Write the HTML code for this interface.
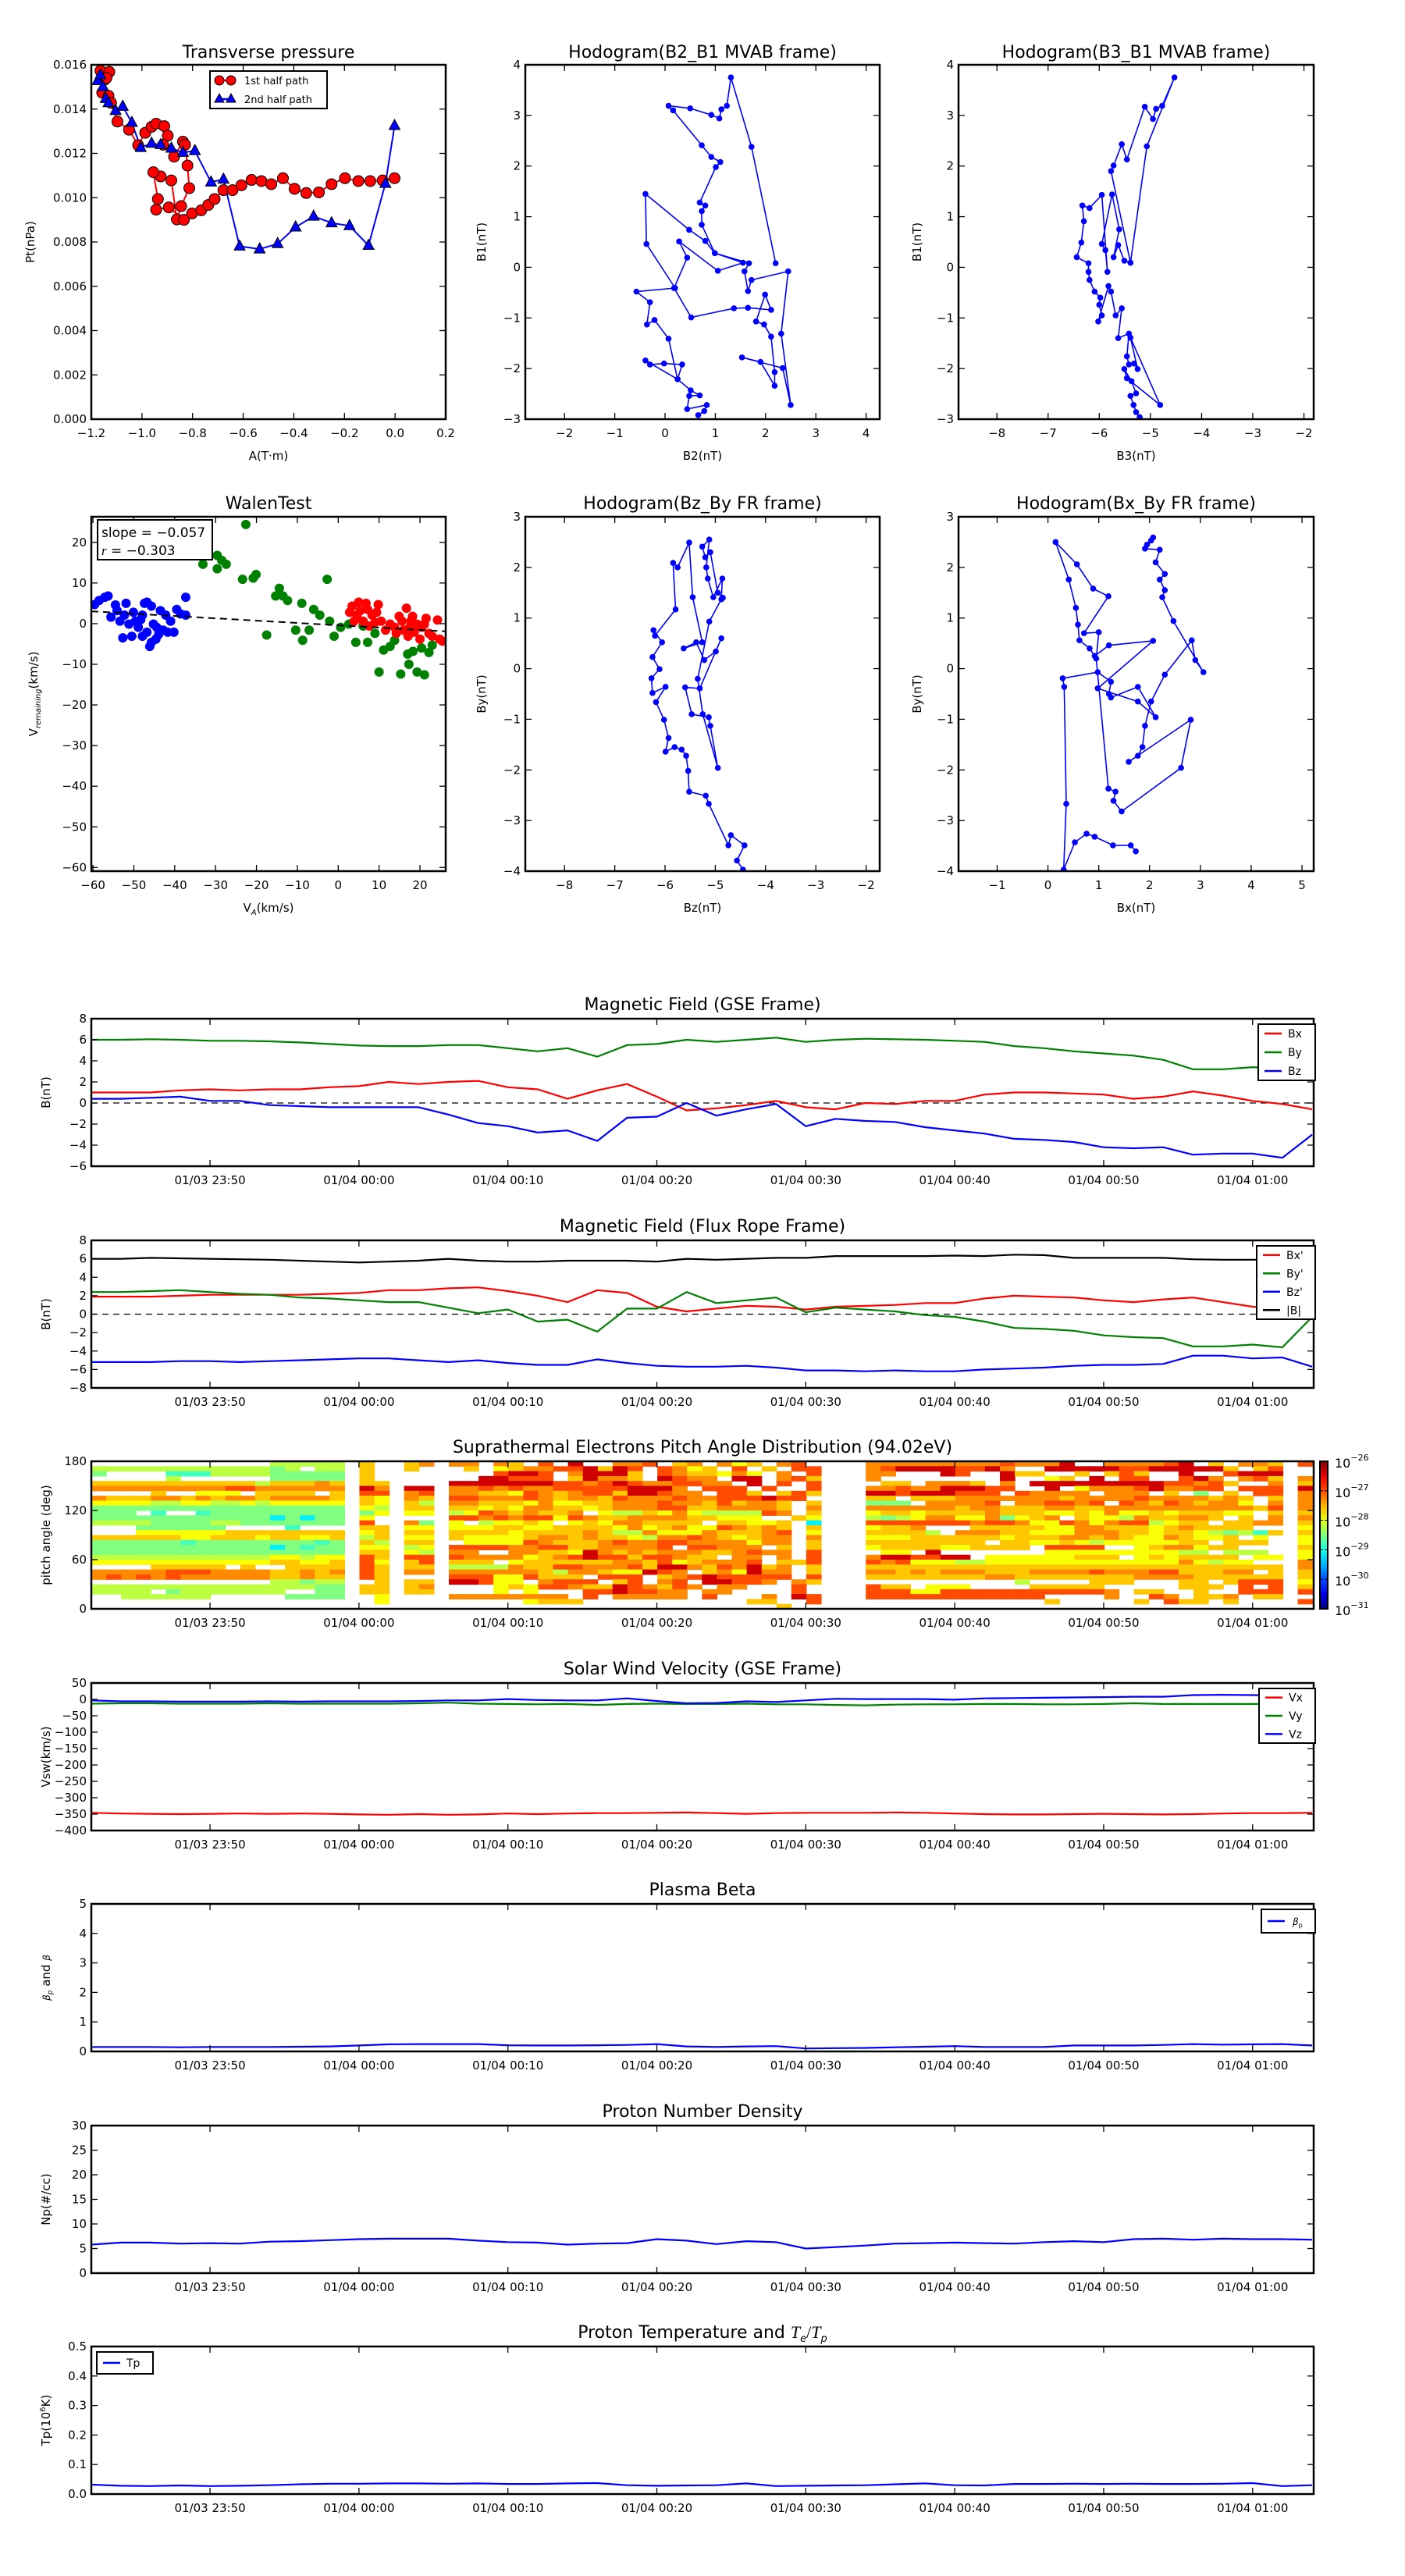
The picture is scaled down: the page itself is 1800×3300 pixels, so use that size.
<!DOCTYPE html>
<html><head><meta charset="utf-8"><title>Flux rope analysis</title>
<style>
html,body{margin:0;padding:0;background:#fff;}
svg{display:block;font-family:"DejaVu Sans","Liberation Sans",sans-serif;}
</style></head>
<body>
<svg id="fig" xmlns="http://www.w3.org/2000/svg" width="1800" height="3300" viewBox="0 0 1800 3300">
<rect x="0" y="0" width="1800" height="3300" fill="#fff"/>
</svg>
<script>
// ---------------- DATA ----------------
const tsTime=[2,4,6,8,10,12,14,16,18,20,22,24,26,28,30,32,34,36,38,40,42,44,46,48,50,52,54,56,58,60,62,64,66,68,70,72,74,76,78,80,82,84];
const timeTicks=[10,20,30,40,50,60,70,80];
const timeTickLabels=["01/03 23:50","01/04 00:00","01/04 00:10","01/04 00:20","01/04 00:30","01/04 00:40","01/04 00:50","01/04 01:00"];
const bxGse=[1.0,1.0,1.0,1.2,1.3,1.2,1.3,1.3,1.5,1.6,2.0,1.8,2.0,2.1,1.5,1.3,0.4,1.2,1.8,0.6,-0.7,-0.5,-0.2,0.2,-0.4,-0.6,0.0,-0.1,0.2,0.2,0.8,1.0,1.0,0.9,0.8,0.4,0.6,1.1,0.7,0.2,-0.1,-0.6];
const byGse=[6.0,6.0,6.05,6.0,5.9,5.9,5.85,5.75,5.6,5.45,5.4,5.4,5.5,5.5,5.2,4.9,5.2,4.4,5.5,5.6,6.0,5.8,6.0,6.2,5.8,6.0,6.1,6.05,6.0,5.9,5.8,5.4,5.2,4.9,4.7,4.5,4.1,3.2,3.2,3.4,3.3,4.8];
const bzGse=[0.4,0.4,0.5,0.6,0.2,0.2,-0.2,-0.3,-0.4,-0.4,-0.4,-0.4,-1.1,-1.9,-2.2,-2.8,-2.6,-3.6,-1.4,-1.3,0.0,-1.2,-0.6,-0.1,-2.2,-1.5,-1.7,-1.8,-2.3,-2.6,-2.9,-3.4,-3.5,-3.7,-4.2,-4.3,-4.2,-4.9,-4.8,-4.8,-5.2,-3.0];
const bxFr=[1.9,1.9,1.9,2.0,2.1,2.1,2.1,2.1,2.2,2.3,2.6,2.6,2.8,2.9,2.5,2.0,1.3,2.6,2.3,0.8,0.3,0.6,0.9,0.8,0.5,0.8,0.9,1.0,1.2,1.2,1.7,2.0,1.9,1.8,1.5,1.3,1.6,1.8,1.3,0.8,0.6,0.6];
const byFr=[2.4,2.4,2.5,2.6,2.4,2.2,2.1,1.8,1.7,1.5,1.3,1.3,0.7,0.1,0.5,-0.8,-0.6,-1.9,0.6,0.6,2.4,1.2,1.5,1.8,0.2,0.7,0.5,0.3,-0.1,-0.3,-0.8,-1.5,-1.6,-1.8,-2.3,-2.5,-2.6,-3.5,-3.5,-3.3,-3.6,-0.3];
const bzFr=[-5.2,-5.2,-5.2,-5.1,-5.1,-5.2,-5.1,-5.0,-4.9,-4.8,-4.8,-5.0,-5.2,-5.0,-5.3,-5.5,-5.5,-4.9,-5.3,-5.6,-5.7,-5.7,-5.6,-5.8,-6.1,-6.1,-6.2,-6.1,-6.2,-6.2,-6.0,-5.9,-5.8,-5.6,-5.5,-5.5,-5.4,-4.5,-4.5,-4.8,-4.7,-5.7];
const btFr=[6.0,6.0,6.1,6.05,6.0,5.95,5.9,5.8,5.7,5.6,5.7,5.8,6.0,5.8,5.7,5.7,5.8,5.8,5.8,5.7,6.0,5.9,6.0,6.1,6.1,6.3,6.3,6.3,6.3,6.35,6.3,6.45,6.4,6.1,6.1,6.1,6.1,5.95,5.9,5.9,5.95,6.0];
const vx=[-346,-348,-349,-350,-349,-348,-349,-348,-349,-351,-352,-350,-352,-351,-348,-350,-348,-347,-347,-346,-345,-347,-349,-347,-346,-346,-346,-345,-346,-348,-350,-351,-351,-350,-349,-350,-351,-350,-348,-347,-347,-346];
const vy=[-13,-12,-12,-13,-13,-13,-12,-13,-13,-13,-13,-12,-10,-13,-14,-15,-14,-17,-14,-13,-14,-14,-13,-15,-15,-17,-18,-16,-15,-15,-14,-14,-15,-15,-14,-12,-14,-14,-14,-14,-14,-14];
const vz=[-3,-6,-6,-7,-7,-7,-6,-7,-6,-6,-6,-5,-3,-3,1,-2,-3,-3,3,-5,-12,-11,-6,-8,-3,2,1,1,1,-1,3,4,5,6,7,8,8,13,14,13,11,8];
const betaP=[0.15,0.15,0.15,0.14,0.15,0.15,0.15,0.16,0.17,0.2,0.24,0.25,0.25,0.25,0.21,0.2,0.2,0.21,0.22,0.25,0.17,0.15,0.17,0.18,0.1,0.11,0.12,0.14,0.16,0.18,0.15,0.15,0.15,0.2,0.2,0.2,0.22,0.25,0.23,0.24,0.25,0.2];
const npDens=[5.8,6.2,6.2,6.0,6.1,6.0,6.4,6.5,6.7,6.9,7.0,7.0,7.0,6.6,6.3,6.2,5.8,6.0,6.1,6.9,6.6,5.9,6.5,6.3,5.0,5.3,5.6,6.0,6.1,6.2,6.1,6.0,6.3,6.5,6.3,6.9,7.0,6.8,7.0,6.9,6.9,6.8];
const tpTemp=[0.032,0.028,0.027,0.029,0.027,0.028,0.03,0.033,0.035,0.035,0.036,0.036,0.035,0.036,0.034,0.034,0.036,0.037,0.03,0.028,0.029,0.03,0.036,0.027,0.028,0.029,0.03,0.033,0.036,0.03,0.029,0.034,0.034,0.035,0.034,0.035,0.034,0.034,0.035,0.037,0.027,0.03];

// PAD heatmap: level codes per 6-degree row (top=174-180 deg), per 1-min column
const padLevels={"1":-29.2,"2":-28.8,"3":-28.5,"4":-28.2,"5":-27.9,"6":-27.6,"7":-27.3,"8":-27.0,"9":-26.4};
const padR1=["............44444","44444444444434.44","3....222444433333",".....4......33333","66666666666466676","77777777788777777","....6..555.6666.6","76667767677677776","55554455445455555","33333333333333333","333.2..2333333333","33333333333313133","44443333443333333","...333333....2...","...55555566666666","66666655666566556","33333323333333323","33333333333313233","33333333333333333","44444444444455455","55555555555566556","....66666.6..6666","77777888777766767","78787877777766766","............44344","44444444444444433","4444.34444444..33","..444444.....3333",".................","................."];
const padPA=["6.","6.","6.","6.","66","97","88","65","65","54","35","5.","8.","66","56","46","64","55","66","86","85","86","86","86",".6","66","66",".5",".5",".."];
const padPB=["67","6.","..","..","..","99","78","76","64","66","55","..","73","55","66","55","66","45","54","88","68","66","77","..","66","67","66","..","..",".."];
const padM=["77.76.8.9..778.67.756.78.",".6.5677889698.8756.8.6.88","...8998.79996.8766575.7.8","..99888.69776.9877.99.786","9999999887898778877.9.8.8","7787877888889997.888.8..8","77665876788699877.886.686","887778767768777877888988.","77666575566777877686776.6","66565776656777886677776.7","458767667.5446575444487.6","887878858766777766555..65","5.45565.565776666.66556.1","55566556666575675587676.6","66665666676447555766678.5","65555677676654778765677.7",".5555876667877887777577.6","888877886677778.88777.6.6","77..7766597676777667877.8","877775678988688766.77.7.8","666.56666667768567778.668","44447668877786997687967.6","7777776477655987.675977.6","888558666.888.678988888.8","99855.7888.68.78.99887.76","...56588766987687.77...8.","...5.5...8898877.77....8.","77777777.8.77777.8...7.98",".....5666...........66..8","......................6.."];
const padN=["77777777787779..777789.6.776","7899998897..9999988999996.68","77...98..966..6.686..9..8999","7........9..56.9.88..897.786",".66.7776.7.99999999988786..7","7787799988..9.5777897788.888","998999888.87777.777.6.3.6.88","66.66677777776777787777676.6","333.77778.778878.876876775.7","7777776776667766777777777768","56656666766655657556566655.6","4345775573567.6554766776.6.7","88888887887558757884566.6677","5667...6666655776665676666..","66664.7776655577766566543426","5556666665666776765576556.5.","66666666.66556545555566.666.","56666556666.8888..5677566...",".55.9.......55555555544.444.","7998899.555555666.5656666.55","87855544555555555555575455..","6666666666666666666666666666","77676777666777787778866677.6","6666666677666666667777666666","..........4....666...66.6888","866.555....66666.....666.8.8","88855888888888887.66..6..888","888888888888....7..87.667.66","............6.....6.866.6...","............................"];
const padLast="8..769777767656556557766568.8..";
const padStart=2.03;
const padRowDeg=6;
const cbarTicks=[-31,-30,-29,-28,-27,-26];

// Transverse pressure
const tp1st=[[-1.164,0.01573],[-1.147,0.01533],[-1.129,0.01568],[-1.140,0.01541],[-1.157,0.01474],[-1.132,0.01460],[-1.122,0.01428],[-1.097,0.01344],[-1.051,0.01307],[-1.015,0.01237],[-0.987,0.01293],[-0.962,0.01320],[-0.944,0.01334],[-0.912,0.01323],[-0.898,0.01280],[-0.916,0.01239],[-0.873,0.01185],[-0.838,0.01253],[-0.830,0.01239],[-0.820,0.01145],[-0.813,0.01043],[-0.845,0.00962],[-0.862,0.00902],[-0.884,0.01078],[-0.926,0.01096],[-0.955,0.01115],[-0.937,0.00994],[-0.944,0.00946],[-0.894,0.00956],[-0.834,0.00900],[-0.802,0.00929],[-0.766,0.00943],[-0.738,0.00967],[-0.713,0.00994],[-0.678,0.01034],[-0.642,0.01034],[-0.607,0.01056],[-0.567,0.01080],[-0.528,0.01075],[-0.489,0.01061],[-0.443,0.01088],[-0.397,0.01040],[-0.351,0.01021],[-0.301,0.01024],[-0.251,0.01061],[-0.198,0.01088],[-0.145,0.01075],[-0.098,0.01075],[-0.049,0.01078],[-0.002,0.01088]];
const tp2nd=[[-1.175,0.01528],[-1.164,0.01554],[-1.154,0.01501],[-1.143,0.01447],[-1.132,0.01428],[-1.104,0.01393],[-1.076,0.01412],[-1.040,0.01339],[-1.005,0.01226],[-0.962,0.01245],[-0.926,0.01239],[-0.884,0.01223],[-0.838,0.01204],[-0.791,0.01212],[-0.727,0.01070],[-0.678,0.01083],[-0.614,0.00781],[-0.535,0.00768],[-0.464,0.00792],[-0.393,0.00867],[-0.322,0.00916],[-0.251,0.00886],[-0.180,0.00873],[-0.105,0.00784],[-0.038,0.01064],[-0.002,0.01325]];

// Hodograms
const h2B2=[0.66,0.78,0.83,0.44,0.48,0.69,0.51,0.25,0.34,-0.02,-0.3,-0.39,0.25,0.07,-0.21,-0.36,-0.3,-0.57,0.2,-0.37,-0.39,0.48,0.8,0.99,1.55,1.05,0.28,0.44,0.18,0.52,1.37,1.65,2.11,1.99,1.81,1.97,2.11,2.18,2.18,1.9,1.53,2.34,2.5,2.31,2.45,1.72,1.65,1.58,1.67,0.99,0.73,0.73,0.8,0.69,1.01,1.1,0.92,0.73,0.16,0.07,0.5,0.92,1.08,1.12,1.23,1.31,1.72,2.2];
const h2B1=[-2.92,-2.84,-2.72,-2.8,-2.54,-2.53,-2.43,-2.21,-1.92,-1.9,-1.92,-1.84,-2.21,-1.41,-1.04,-1.13,-0.69,-0.48,-0.41,0.46,1.45,0.74,0.52,0.28,0.09,-0.07,0.51,0.19,-0.41,-0.99,-0.81,-0.8,-0.84,-0.54,-1.07,-1.13,-1.37,-2.07,-2.34,-1.87,-1.78,-1.99,-2.72,-1.31,-0.08,-0.25,-0.47,-0.08,0.08,0.28,0.84,1.11,1.22,1.28,1.98,2.08,2.18,2.41,3.1,3.19,3.14,3.01,2.94,3.12,3.19,3.75,2.38,0.08];
const h3Points=[[-5.21,-2.96],[-5.28,-2.86],[-5.33,-2.72],[-5.39,-2.54],[-5.28,-2.49],[-5.37,-2.25],[-5.51,-2.01],[-5.46,-2.19],[-4.81,-2.72],[-5.39,-1.39],[-5.25,-2.01],[-5.32,-1.9],[-5.42,-1.92],[-5.46,-1.76],[-5.42,-1.31],[-5.63,-1.4],[-5.56,-0.81],[-5.68,-0.95],[-5.77,-0.48],[-5.82,-0.37],[-6.02,-1.07],[-5.95,-0.95],[-6.0,-0.74],[-5.98,-0.6],[-6.09,-0.48],[-6.19,-0.25],[-6.21,-0.09],[-6.21,0.08],[-6.44,0.2],[-6.35,0.49],[-6.3,0.91],[-6.33,1.22],[-6.19,1.17],[-5.95,1.43],[-5.84,-0.09],[-5.88,0.34],[-5.95,0.46],[-5.75,1.44],[-5.61,0.75],[-5.72,0.2],[-5.63,0.44],[-5.51,0.13],[-5.39,0.09],[-5.77,1.9],[-5.72,2.01],[-5.56,2.43],[-5.46,2.13],[-5.11,3.17],[-4.95,2.93],[-4.89,3.13],[-4.77,3.19],[-4.53,3.75],[-5.07,2.39],[-5.39,0.09]];
const hzPoints=[[-4.45,-3.97],[-4.57,-3.79],[-4.42,-3.49],[-4.69,-3.29],[-4.74,-3.49],[-5.13,-2.67],[-5.19,-2.51],[-5.52,-2.43],[-5.54,-2.02],[-5.58,-1.72],[-5.67,-1.6],[-5.81,-1.55],[-5.99,-1.64],[-5.93,-1.37],[-6.02,-1.01],[-6.18,-0.66],[-5.99,-0.36],[-6.25,-0.48],[-6.27,-0.19],[-6.11,-0.01],[-6.25,0.23],[-6.06,0.52],[-6.23,0.76],[-6.2,0.65],[-5.79,1.17],[-5.84,2.09],[-5.75,2.0],[-5.52,2.49],[-5.45,1.41],[-5.26,0.52],[-5.63,0.4],[-5.38,0.52],[-5.22,0.17],[-4.99,0.34],[-4.88,0.6],[-5.31,-0.39],[-5.6,-0.37],[-5.47,-0.9],[-5.13,-0.96],[-5.1,-1.13],[-4.95,-1.96],[-5.25,-0.9],[-5.35,-0.2],[-5.12,0.93],[-4.88,1.37],[-4.86,1.78],[-5.04,1.41],[-5.15,1.78],[-5.18,2.0],[-5.12,2.55],[-5.26,2.41],[-5.2,2.2],[-5.1,2.3],[-4.95,1.5],[-4.85,1.4]];
const hxPoints=[[1.73,-3.61],[1.63,-3.49],[1.28,-3.49],[0.92,-3.32],[0.76,-3.26],[0.53,-3.43],[0.31,-3.97],[0.36,-2.67],[0.32,-0.36],[0.29,-0.19],[0.98,-0.07],[1.24,-0.26],[1.2,-0.5],[1.24,-0.57],[1.77,-0.36],[2.12,-0.96],[1.77,-0.65],[0.98,-0.39],[2.07,0.55],[1.2,0.46],[0.92,0.25],[0.82,0.4],[0.62,0.56],[0.59,0.87],[0.55,1.2],[0.41,1.76],[0.15,2.5],[0.57,2.06],[0.89,1.58],[1.19,1.43],[0.71,0.7],[1.0,0.72],[0.95,0.2],[1.19,-2.37],[1.33,-2.43],[1.29,-2.61],[1.45,-2.82],[2.62,-1.96],[2.81,-1.01],[1.59,-1.84],[1.77,-1.72],[1.86,-1.55],[1.91,-1.13],[2.03,-0.65],[2.3,-0.12],[2.83,0.56],[2.9,0.17],[3.06,-0.07],[2.47,0.94],[2.25,1.41],[2.3,1.55],[2.2,1.76],[2.3,1.87],[2.12,2.1],[2.2,2.35],[1.91,2.37],[2.03,2.53],[2.07,2.59],[1.95,2.45]];

// Walen test
const walenBlue=[[-59.6,4.7],[-58.5,5.7],[-57.1,6.5],[-56.3,6.8],[-55.6,1.6],[-54.5,4.6],[-54.1,3.2],[-53.4,0.6],[-52.7,-3.5],[-52.3,2.1],[-51.2,-0.1],[-50.5,-3.1],[-49.6,0.6],[-48.9,-0.9],[-47.9,2.1],[-47.4,5.0],[-46.8,-2.1],[-46.1,-5.6],[-45.7,-4.6],[-44.6,-3.8],[-45.2,-0.1],[-43.9,-2.6],[-42.8,-1.6],[-43.5,3.2],[-45.7,4.3],[-41.7,-2.1],[-40.2,-2.1],[-39.5,3.5],[-38.6,2.4],[-37.3,6.5],[-37.3,2.1],[-46.8,5.3],[-50.1,2.8],[-48.3,1.0],[-51.9,5.0],[-42.2,2.1],[-44.4,-0.9],[-47.9,-3.1],[-41.0,0.6]];
const walenGreen=[[-22.6,24.4],[-29.6,16.8],[-28.5,15.6],[-27.4,14.6],[-29.6,13.5],[-33.1,14.6],[-20.1,12.1],[-20.8,11.2],[-23.4,10.9],[-2.7,10.9],[-14.4,8.7],[-15.3,6.8],[-13.5,6.8],[-12.4,5.7],[-8.9,5.0],[-17.5,-2.8],[-10.4,-1.6],[-6.0,3.5],[-4.5,2.1],[-7.1,-1.6],[-8.7,-4.1],[-2.1,0.6],[-1.0,-3.1],[0.6,-0.9],[2.6,-0.1],[4.3,-4.6],[7.2,-4.6],[9.0,-2.4],[10.0,-11.9],[11.1,-6.5],[12.7,-5.6],[15.3,-12.4],[17.3,-10.0],[19.3,-11.9],[21.1,-12.6],[18.3,-6.8],[20.4,-6.0],[22.2,-7.1],[23.0,-5.3],[17.0,-7.5],[13.8,-4.1],[6.1,-0.6]];
const walenRed=[[2.8,2.8],[3.4,4.3],[5.0,5.3],[4.6,2.1],[6.1,0.6],[7.2,3.5],[8.3,2.1],[9.4,2.8],[9.8,4.7],[10.5,0.6],[11.6,-1.6],[12.7,-0.1],[13.8,-0.9],[14.2,-2.4],[15.6,0.6],[16.0,-1.6],[16.7,3.8],[17.1,-3.1],[17.8,0.6],[18.2,1.8],[18.6,-2.1],[19.3,-0.1],[20.0,-3.8],[20.4,-0.9],[21.1,-0.1],[22.2,-2.4],[23.0,-3.1],[24.3,0.9],[24.8,-3.8],[25.5,-4.3],[3.9,0.6],[5.4,3.2],[6.8,5.0],[7.6,-0.6],[9.0,0.3],[14.9,1.8],[17.5,-0.9],[21.5,1.3]];
const walenFit=[-0.057,-0.4];

// ---------------- DRAWING ----------------
const NS='http://www.w3.org/2000/svg';
const svg=document.getElementById('fig');
function mk(tag,attrs,parent){const e=document.createElementNS(NS,tag);for(const k in attrs)e.setAttribute(k,attrs[k]);(parent||svg).appendChild(e);return e;}
function lin(d0,d1,r0,r1){return v=>r0+(v-d0)/(d1-d0)*(r1-r0);}
function fmtMinus(s){return String(s).replace('-','\u2212');}
let clipId=0;

function makeAxes(name,box,xd,yd){
  const g=mk('g',{});
  
  
  const X=lin(xd[0],xd[1],box.x,box.x+box.w);
  const Y=lin(yd[0],yd[1],box.y+box.h,box.y);
  const id='clip'+(clipId++);
  const cp=mk('clipPath',{id:id},g);
  mk('rect',{x:box.x,y:box.y,width:box.w,height:box.h},cp);
  const plot=mk('g',{'clip-path':'url(#'+id+')'},g);
  
  
  return {g,plot,X,Y,box};
}
function finishAxes(ax,xt,xtl,yt,ytl,opts){
  opts=opts||{};
  const b=ax.box;
  const tk=mk('g',{stroke:'#000','stroke-width':1.3},ax.g);
  
  
  const lab=mk('g',{'font-size':opts.fs||15,fill:'#000'},ax.g);
  
  
  xt.forEach((v,i)=>{const x=ax.X(v);
    mk('line',{x1:x,y1:b.y+b.h,x2:x,y2:b.y+b.h-8},tk);
    mk('line',{x1:x,y1:b.y,x2:x,y2:b.y+8},tk);
    const t=mk('text',{x:x,y:b.y+b.h+23,'text-anchor':'middle'},lab);
    t.textContent=fmtMinus(xtl[i]);
    
    
  });
  yt.forEach((v,i)=>{const y=ax.Y(v);
    mk('line',{x1:b.x,y1:y,x2:b.x+8,y2:y},tk);
    mk('line',{x1:b.x+b.w,y1:y,x2:b.x+b.w-8,y2:y},tk);
    const t=mk('text',{x:b.x-6,y:y+5,'text-anchor':'end'},lab);
    t.textContent=fmtMinus(ytl[i]);
    
    
  });
  const fr=mk('rect',{x:b.x,y:b.y,width:b.w,height:b.h,fill:'none',stroke:'#000','stroke-width':2.5},ax.g);
  
  
}
function title(txt,x,y,name){
  const t=mk('text',{x:x,y:y,'text-anchor':'middle','font-size':22});
  t.innerHTML=txt;
  
  
  return t;
}
function ylabel(txt,x,y,name){
  const t=mk('text',{x:x,y:y,'text-anchor':'middle','font-size':15,transform:'rotate(-90 '+x+' '+y+')'});
  t.innerHTML=txt;
  
  
}
function xlabel(txt,x,y,name){
  const t=mk('text',{x:x,y:y,'text-anchor':'middle','font-size':15});
  t.innerHTML=txt;
  
  
}
function polyline(ax,xs,ys,color,name,w){
  const pts=xs.map((x,i)=>ax.X(x).toFixed(1)+','+ax.Y(ys[i]).toFixed(1)).join(' ');
  const p=mk('polyline',{points:pts,fill:'none',stroke:color,'stroke-width':w||2,'stroke-linejoin':'round'},ax.plot);
  
  
  return p;
}
function range(a,b,s){const r=[];for(let v=a;v<=b+1e-9;v+=s)r.push(Math.round(v*1000)/1000);return r;}
function legend(x,y,w,h,entries,name,fs){
  const g=mk('g',{});
  
  
  mk('rect',{x:x,y:y,width:w,height:h,fill:'#fff',stroke:'#000','stroke-width':2},g);
  const step=h/entries.length;
  entries.forEach((e,i)=>{
    const cy=y+step*(i+0.5);
    const row=mk('g',{},g);
    
    
    mk('line',{x1:x+8,y1:cy,x2:x+30,y2:cy,stroke:e.c,'stroke-width':2.5},row);
    if(e.m)e.m(row,x+12,cy),e.m(row,x+27,cy);
    const t=mk('text',{x:x+(e.tx||38),y:cy+5,'font-size':fs||14},row);
    t.innerHTML=e.t;
  });
}

// ===== Top row =====
const R1={y:83,h:454}, R2={y:662,h:454};
// Transverse pressure
(function(){
  const ax=makeAxes('transverse-pressure-chart',{x:117,y:R1.y,w:454,h:R1.h},[-1.2,0.2],[0,0.016]);
  polyline(ax,tp1st.map(p=>p[0]),tp1st.map(p=>p[1]),'#f00','first-half-path-line',2);
  polyline(ax,tp2nd.map(p=>p[0]),tp2nd.map(p=>p[1]),'#00f','second-half-path-line',2);
  tp1st.forEach(p=>{const c=mk('circle',{cx:ax.X(p[0]),cy:ax.Y(p[1]),r:7,fill:'#f00',stroke:'#000','stroke-width':1},ax.plot);
    
    });
  tp2nd.forEach(p=>{const x=ax.X(p[0]),y=ax.Y(p[1]);const c=mk('polygon',{points:`${x},${y-8} ${x-7},${y+5} ${x+7},${y+5}`,fill:'#00f',stroke:'#000','stroke-width':1},ax.plot);
    
    });
  finishAxes(ax,range(-1.2,0.2,0.2),['-1.2','-1.0','-0.8','-0.6','-0.4','-0.2','0.0','0.2'],range(0,0.016,0.002),['0.000','0.002','0.004','0.006','0.008','0.010','0.012','0.014','0.016']);
  legend(269,91,150,48,[
    {t:'1st half path',c:'#f00',tx:44,m:(g,x,y)=>mk('circle',{cx:x,cy:y,r:6,fill:'#f00',stroke:'#000'},g)},
    {t:'2nd half path',c:'#00f',tx:44,m:(g,x,y)=>mk('polygon',{points:`${x},${y-7} ${x-6},${y+4} ${x+6},${y+4}`,fill:'#00f',stroke:'#000'},g)}],'pressure-legend',13);
  title('Transverse pressure',344,74,'pressure-title');
  ylabel('Pt(nPa)',44,310,'pressure-y-label');
  xlabel('A(T·m)',344,589,'pressure-x-label');
})();

function hodo(name,box,xd,yd,xs,ys,xt,yt,ttl,xl,yl,ylx,tY,xlY){
  const ax=makeAxes(name,box,xd,yd);
  polyline(ax,xs,ys,'#00f',name+'-line',1.6);
  xs.forEach((x,i)=>{const c=mk('circle',{cx:ax.X(x),cy:ax.Y(ys[i]),r:3.8,fill:'#00f'},ax.plot);
    
    });
  finishAxes(ax,xt,xt.map(String),yt,yt.map(String));
  title(ttl,box.x+box.w/2,tY,name+'-title');
  xlabel(xl,box.x+box.w/2,xlY,name+'-x-label');
  ylabel(yl,ylx,box.y+box.h/2,name+'-y-label');
}
hodo('hodogram-b2-b1',{x:673,y:R1.y,w:454,h:R1.h},[-2.78,4.27],[-3,4],h2B2,h2B1,range(-2,4,1),range(-3,4,1),'Hodogram(B2_B1 MVAB frame)','B2(nT)','B1(nT)',622,74,589);
hodo('hodogram-b3-b1',{x:1228,y:R1.y,w:455,h:R1.h},[-8.75,-1.81],[-3,4],h3Points.map(p=>p[0]),h3Points.map(p=>p[1]),range(-8,-2,1),range(-3,4,1),'Hodogram(B3_B1 MVAB frame)','B3(nT)','B1(nT)',1180,74,589);
hodo('hodogram-bz-by',{x:673,y:R2.y,w:454,h:R2.h},[-8.78,-1.73],[-4,3],hzPoints.map(p=>p[0]),hzPoints.map(p=>p[1]),range(-8,-2,1),range(-4,3,1),'Hodogram(Bz_By FR frame)','Bz(nT)','By(nT)',622,652,1168);
hodo('hodogram-bx-by',{x:1228,y:R2.y,w:455,h:R2.h},[-1.76,5.23],[-4,3],hxPoints.map(p=>p[0]),hxPoints.map(p=>p[1]),range(-1,5,1),range(-4,3,1),'Hodogram(Bx_By FR frame)','Bx(nT)','By(nT)',1180,652,1168);

// Walen test
(function(){
  const ax=makeAxes('walen-test-chart',{x:117,y:R2.y,w:454,h:R2.h},[-60.4,26.3],[-60.9,26.3]);
  const grp=[[walenBlue,'#00f','walen-point-blue'],[walenGreen,'#008000','walen-point-green'],[walenRed,'#f00','walen-point-red']];
  grp.forEach(gp=>gp[0].forEach(p=>{const c=mk('circle',{cx:ax.X(p[0]),cy:ax.Y(p[1]),r:6,fill:gp[1]},ax.plot);
    
    }));
  const xa=-60.4,xb=26.3;
  const ln=mk('line',{x1:ax.X(xa),y1:ax.Y(walenFit[0]*xa+walenFit[1]),x2:ax.X(xb),y2:ax.Y(walenFit[0]*xb+walenFit[1]),stroke:'#000','stroke-width':2,'stroke-dasharray':'9,6'},ax.plot);
  
  
  finishAxes(ax,range(-60,20,10),['-60','-50','-40','-30','-20','-10','0','10','20'],range(-60,20,10),['-60','-50','-40','-30','-20','-10','0','10','20']);
  const bx=mk('g',{});
  
  
  mk('rect',{x:125,y:666,width:147,height:51,fill:'#fff',stroke:'#000','stroke-width':2},bx);
  const t1=mk('text',{x:130,y:688,'font-size':17},bx);t1.textContent='slope = \u22120.057';
  const t2=mk('text',{x:130,y:711,'font-size':17},bx);t2.innerHTML='<tspan font-style="italic" font-family="Liberation Serif, serif">r</tspan> = \u22120.303';
  title('WalenTest',344,652,'walen-title');
  xlabel('V<tspan font-size="10" dy="4" font-style="italic">A</tspan><tspan dy="-4">(km/s)</tspan>',344,1168,'walen-x-label');
  ylabel('V<tspan font-size="10" dy="4" font-style="italic">remaining</tspan><tspan dy="-4">(km/s)</tspan>',48,889,'walen-y-label');
})();

// ===== Time series =====
const TX=117,TW=1566,TH=189,TD=[2.03,84.1];
function tsPanel(name,top,yd,yt,ytl,ttl,yl,series,leg){
  const ax=makeAxes(name,{x:TX,y:top,w:TW,h:TH},TD,yd);
  series.forEach(s=>{
    if(s.zero){const z=mk('line',{x1:TX,x2:TX+TW,y1:ax.Y(0),y2:ax.Y(0),stroke:'#000','stroke-width':1.3,'stroke-dasharray':'8,6'},ax.plot);
      
      }
    else polyline(ax,tsTime,s.v,s.c,s.n,2.2);
  });
  finishAxes(ax,timeTicks,timeTickLabels,yt,ytl);
  title(ttl,TX+TW/2,top-11,name+'-title');
  ylabel(yl,64,top+TH/2,name+'-y-label');
  if(leg)legend(leg.x,leg.y,leg.w,leg.h,leg.e,name+'-legend',14);
  return ax;
}
const ev=(a,b,s)=>range(a,b,s);
tsPanel('magnetic-field-gse-chart',1305,[-6,8],ev(-6,8,2),ev(-6,8,2).map(String),'Magnetic Field (GSE Frame)','B(nT)',
  [{zero:1},{v:bxGse,c:'#f00',n:'bx-gse-line'},{v:byGse,c:'#008000',n:'by-gse-line'},{v:bzGse,c:'#00f',n:'bz-gse-line'}],
  {x:1612,y:1312,w:73,h:72,e:[{t:'Bx',c:'#f00'},{t:'By',c:'#008000'},{t:'Bz',c:'#00f'}]});
tsPanel('magnetic-field-fr-chart',1589,[-8,8],ev(-8,8,2),ev(-8,8,2).map(String),'Magnetic Field (Flux Rope Frame)','B(nT)',
  [{zero:1},{v:bxFr,c:'#f00',n:'bx-fr-line'},{v:byFr,c:'#008000',n:'by-fr-line'},{v:bzFr,c:'#00f',n:'bz-fr-line'},{v:btFr,c:'#000',n:'btotal-fr-line'}],
  {x:1610,y:1596,w:75,h:94,e:[{t:"Bx'",c:'#f00'},{t:"By'",c:'#008000'},{t:"Bz'",c:'#00f'},{t:'|B|',c:'#000'}]});

// PAD heatmap
(function(){
  const top=1872;
  const ax=makeAxes('pitch-angle-distribution-chart',{x:TX,y:top,w:TW,h:TH},TD,[0,180]);
  function jet(f){const c=v=>Math.round(255*Math.max(0,Math.min(1,v)));return `rgb(${c(1.5-Math.abs(4*f-3))},${c(1.5-Math.abs(4*f-2))},${c(1.5-Math.abs(4*f-1))})`;}
  const lmin=-31,lmax=-26;
  function pad(s,n){s=s||'';while(s.length<n)s+='.';return s.slice(0,n);}
  for(let r=0;r<30;r++){
    const row=pad(padR1[r],17)+'.'+pad(padPA[r],2)+'.'+pad(padPB[r],2)+'.'+pad(padM[r],25)+'...'+pad(padN[r],28)+'.'+(padLast[r]||'.');
    const a0=180-padRowDeg*r, a1=a0-padRowDeg;
    for(let c=0;c<row.length;c++){
      const ch=row[c]; if(!(ch in padLevels))continue;
      const v=padLevels[ch];
      const x0=ax.X(padStart+c),x1=ax.X(padStart+c+1);
      const cell=mk('rect',{x:x0.toFixed(1),y:ax.Y(a0).toFixed(1),width:(x1-x0+0.6).toFixed(1),height:(ax.Y(a1)-ax.Y(a0)+0.6).toFixed(1),fill:jet((v-lmin)/(lmax-lmin))},ax.plot);
      
      
    }
  }
  finishAxes(ax,timeTicks,timeTickLabels,[0,60,120,180],['0','60','120','180']);
  title('Suprathermal Electrons Pitch Angle Distribution (94.02eV)',TX+TW/2,top-11,'pad-title');
  ylabel('pitch angle (deg)',64,top+TH/2,'pad-y-label');
  // colorbar
  const cb=mk('g',{});
  
  
  const defs=mk('defs',{},cb);
  const lg=mk('linearGradient',{id:'jetgrad',x1:0,y1:1,x2:0,y2:0},defs);
  for(let i=0;i<=10;i++)mk('stop',{offset:i/10,'stop-color':jet(i/10)},lg);
  mk('rect',{x:1691,y:top,width:10,height:TH,fill:'url(#jetgrad)',stroke:'#000','stroke-width':2},cb);
  const CY=lin(lmin,lmax,top+TH,top);
  cbarTicks.forEach(v=>{const y=CY(v);
    mk('line',{x1:1691,x2:1695,y1:y,y2:y,stroke:'#000'},cb);
    mk('line',{x1:1701,x2:1697,y1:y,y2:y,stroke:'#000'},cb);
    const t=mk('text',{x:1710,y:y+8,'font-size':16},cb);
    t.innerHTML='10<tspan font-size="11" dy="-9">'+fmtMinus(v)+'</tspan>';
    
    
  });
})();

tsPanel('solar-wind-velocity-chart',2156,[-400,50],ev(-400,50,50),ev(-400,50,50).map(String),'Solar Wind Velocity (GSE Frame)','Vsw(km/s)',
  [{v:vx,c:'#f00',n:'vx-line'},{v:vy,c:'#008000',n:'vy-line'},{v:vz,c:'#00f',n:'vz-line'}],
  {x:1613,y:2163,w:72,h:70,e:[{t:'Vx',c:'#f00'},{t:'Vy',c:'#008000'},{t:'Vz',c:'#00f'}]});
tsPanel('plasma-beta-chart',2439,[0,5],ev(0,5,1),ev(0,5,1).map(String),'Plasma Beta','<tspan font-style="italic" font-size="12">β</tspan><tspan font-size="9" font-style="italic" dy="3">p</tspan><tspan dy="-3"> and </tspan><tspan font-style="italic" font-size="12">β</tspan>',
  [{v:betaP,c:'#00f',n:'beta-p-line'}],
  {x:1616,y:2446,w:69,h:30,e:[{t:'<tspan font-style="italic" font-size="12">β</tspan><tspan font-size="8" dy="3">p</tspan>',c:'#00f',tx:40}]});
tsPanel('proton-density-chart',2723,[0,30],ev(0,30,5),ev(0,30,5).map(String),'Proton Number Density','Np(#/cc)',
  [{v:npDens,c:'#00f',n:'np-line'}]);
tsPanel('proton-temperature-chart',3006,[0,0.5],ev(0,0.5,0.1),['0.0','0.1','0.2','0.3','0.4','0.5'],
  'Proton Temperature and <tspan font-style="italic" font-family="Liberation Serif, serif">T</tspan><tspan font-size="13" dy="5" font-style="italic">e</tspan><tspan dy="-5" font-family="Liberation Serif, serif">/</tspan><tspan font-style="italic" font-family="Liberation Serif, serif">T</tspan><tspan font-size="13" dy="5" font-style="italic">p</tspan>',
  'Tp(10<tspan font-size="10" dy="-6">6</tspan><tspan dy="6">K)</tspan>',
  [{v:tpTemp,c:'#00f',n:'tp-line'}],
  {x:124,y:3013,w:72,h:28,e:[{t:'Tp',c:'#00f'}]});
</script>
</body></html>
